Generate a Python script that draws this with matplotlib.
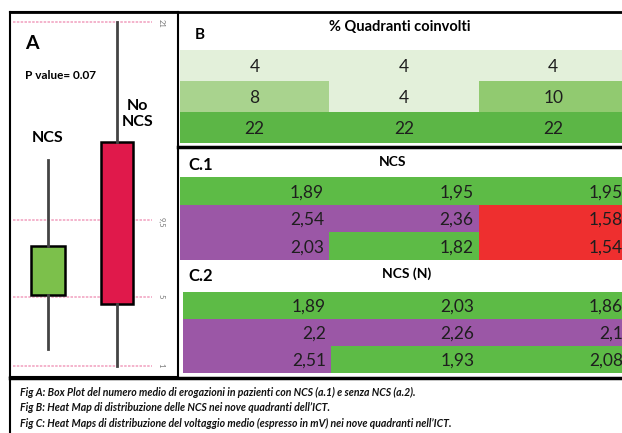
import numpy as np
import matplotlib
matplotlib.use('Agg')
import matplotlib.pyplot as plt
from matplotlib.colors import ListedColormap
from matplotlib.lines import Line2D

plt.rcParams['font.family'] = ['Lato', 'DejaVu Sans']

# --- data -------------------------------------------------------------
# Fig A: box plot (whisker low, q1, q3, whisker high)
box_labels = ['NCS', 'No\nNCS']
box_whislo = [2.0, 1.0]
box_q1 = [5.1, 4.6]
box_q3 = [8.0, 14.0]
box_whishi = [13.0, 21.0]
box_colors = ['#7cc04b', '#e0194b']
a_ticks = [1, 5, 9.5, 21]
a_ticklabels = ['1', '5', '9,5', '21']
p_text = 'P value= 0.07'

# Fig B: % quadranti coinvolti
b_vals = [[4, 4, 4],
          [8, 4, 10],
          [22, 22, 22]]
b_colors = ['#e3f0da', '#a9d38e', '#91ca70', '#5cb646']
b_class = [[0, 0, 0],
           [1, 0, 2],
           [3, 3, 3]]

# Fig C: voltaggio medio (0 = green, 1 = purple, 2 = red)
c_colors = ['#5dbb46', '#9b57a6', '#ee2f2f']
c1_vals = [['1,89', '1,95', '1,95'],
           ['2,54', '2,36', '1,58'],
           ['2,03', '1,82', '1,54']]
c1_class = [[0, 0, 0],
            [1, 1, 2],
            [1, 0, 2]]
c2_vals = [['1,89', '2,03', '1,86'],
           ['2,2', '2,26', '2,1'],
           ['2,51', '1,93', '2,08']]
c2_class = [[0, 0, 0],
            [1, 1, 1],
            [1, 0, 0]]

captions = [
    'Fig A: Box Plot del numero medio di erogazioni in pazienti con NCS (a.1) e senza NCS (a.2).',
    'Fig B: Heat Map di distribuzione delle NCS nei nove quadranti dell\u2019ICT.',
    'Fig C: Heat Maps di distribuzione del voltaggio medio (espresso in mV) nei nove quadranti nell\u2019ICT.',
]

# --- layout helpers (pixel boxes -> figure fractions) -----------------
W, H = 622, 433
fig = plt.figure(figsize=(W / 100, H / 100), dpi=100)


def px_axes(x0, y0, x1, y1, **kw):
    return fig.add_axes([x0 / W, 1 - y1 / H, (x1 - x0) / W, (y1 - y0) / H], **kw)


# --- Fig A -------------------------------------------------------------
axA = px_axes(10, 12, 178, 377)
stats = []
for i in range(len(box_labels)):
    stats.append({'whislo': box_whislo[i], 'q1': box_q1[i], 'med': box_q1[i],
                  'q3': box_q3[i], 'whishi': box_whishi[i], 'fliers': []})
bp = axA.bxp(stats, positions=[1, 2], widths=[0.5, 0.45], patch_artist=True,
             showcaps=False, showfliers=False,
             medianprops=dict(linewidth=0),
             whiskerprops=dict(color='#444444', linewidth=2),
             boxprops=dict(linewidth=1.8, edgecolor='black'), zorder=3)
for patch, c in zip(bp['boxes'], box_colors):
    patch.set_facecolor(c)
axA.set_xlim(0.449, 2.884)
axA.set_ylim(0.36, 21.58)
axA.hlines(a_ticks, 0.493, 2.507, colors='#f2a7c3', linewidth=1.2,
           linestyles=(0, (1.5, 0.8)), zorder=1)
axA.set_xticks([])
axA.set_yticks(a_ticks)
axA.set_yticklabels(a_ticklabels)
axA.yaxis.tick_right()
axA.tick_params(axis='y', length=0, pad=-15, labelsize=5.5,
                labelcolor='#777777', labelrotation=-90)
for s in axA.spines.values():
    s.set_linewidth(1.5)
axA.text(0.09, 0.915, 'A', transform=axA.transAxes, fontsize=14,
         fontweight='bold', va='center')
axA.text(0.09, 0.825, p_text, transform=axA.transAxes, fontsize=8.5,
         fontweight='bold', va='center')
axA.text(1, box_whishi[0] + 1.26, box_labels[0], ha='center', va='center',
         fontsize=11.5, fontweight='bold')
axA.text(2.3, box_q3[1] + 1.65, box_labels[1], ha='center', va='center',
         fontsize=11.5, fontweight='bold', linespacing=1.1)


# --- heat map helper -----------------------------------------------------
def heat(ax, classes, colors, labels, align):
    cl = np.array(classes)
    ax.pcolormesh(cl, cmap=ListedColormap(colors), vmin=-0.5,
                  vmax=len(colors) - 0.5, linewidth=0)
    ax.set_xlim(0, 3)
    ax.set_ylim(3, 0)
    for r in range(3):
        for c in range(3):
            if align == 'center':
                ax.text(c + 0.5, r + 0.55, labels[r][c], ha='center',
                        va='center', fontsize=12.5, color='#1e1e1e')
            else:
                ax.text(c + 0.965, r + 0.55, labels[r][c], ha='right',
                        va='center', fontsize=12.5, color='#1e1e1e')
    ax.axis('off')


# --- Fig B -------------------------------------------------------------
axB = px_axes(180, 50, 628, 143)
heat(axB, b_class, b_colors, [[str(v) for v in row] for row in b_vals], 'center')
fig.text(195 / W, 1 - 35 / H, 'B', fontsize=11, fontweight='bold', va='center')
fig.text(400 / W, 1 - 27 / H, '% Quadranti coinvolti', fontsize=10.5,
         fontweight='bold', ha='center', va='center')

# --- Fig C -------------------------------------------------------------
axC1 = px_axes(180, 177, 628, 260)
heat(axC1, c1_class, c_colors, c1_vals, 'right')
axC2 = px_axes(183, 292, 628, 373)
heat(axC2, c2_class, c_colors, c2_vals, 'right')
fig.text(188 / W, 1 - 165 / H, 'C.1', fontsize=12, fontweight='bold', va='center')
fig.text(393 / W, 1 - 162 / H, 'NCS', fontsize=10, fontweight='bold',
         ha='center', va='center')
fig.text(188 / W, 1 - 276 / H, 'C.2', fontsize=12, fontweight='bold', va='center')
fig.text(407 / W, 1 - 274 / H, 'NCS (N)', fontsize=10, fontweight='bold',
         ha='center', va='center')

# --- frame lines -----------------------------------------------------------
frame = [((10, 622), (12, 12), 2.0),
         ((178, 622), (146.5, 146.5), 2.5),
         ((10, 622), (377.5, 377.5), 2.5),
         ((10, 10), (377, 433), 1.5)]
for xs, ys, lw in frame:
    fig.add_artist(Line2D([x / W for x in xs], [1 - y / H for y in ys],
                          color='black', linewidth=lw))

# --- caption -----------------------------------------------------------
for i, line in enumerate(captions):
    fig.text(20 / W, 1 - (392 + 15.5 * i) / H, line, fontsize=7.6,
             fontstyle='italic', fontweight='bold', va='center', color='#111111')

fig.savefig('out.png', dpi=100)
